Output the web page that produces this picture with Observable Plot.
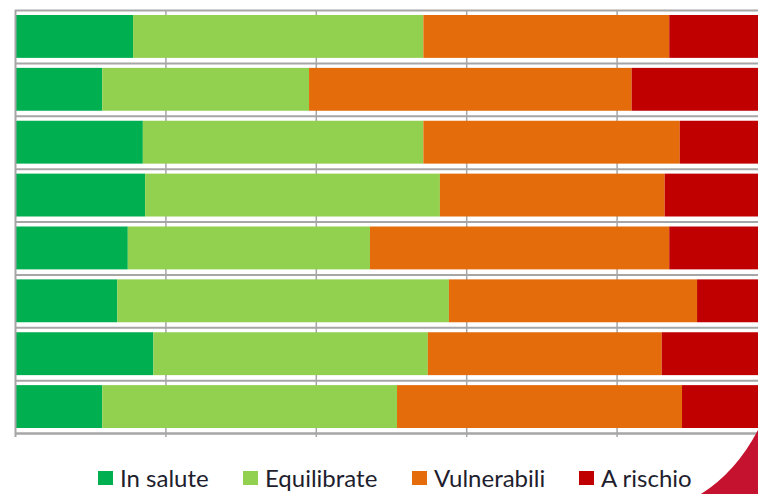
<!DOCTYPE html>
<html>
<head>
<meta charset="utf-8">
<script src="https://cdn.jsdelivr.net/npm/d3@7"></script>
<script src="https://cdn.jsdelivr.net/npm/@observablehq/plot@0.6"></script>
<style>
  html, body { margin: 0; padding: 0; background: #fff; overflow: hidden; }
  #wrap { position: relative; width: 758px; height: 494px; overflow: hidden; }
  #chart { position: absolute; left: 0; top: 0; }
  .legend-item { position: absolute; top: 466px; height: 24px; line-height: 24px; display: flex; align-items: center;
    font-family: Lato, "Open Sans", sans-serif; font-size: 24px; color: #1e1e2e; white-space: nowrap; }
  .legend-item .sw { width: 15px; height: 14px; margin-right: 7px; display: inline-block; }
  #swoosh { position: absolute; left: 0; top: 0; pointer-events: none; }
</style>
</head>
<body>
<div id="wrap">
  <div id="chart"></div>
  <div id="legend"></div>
  <svg id="swoosh" width="758" height="494">
    <path d="M701,494 Q736,472 758,430 L758,494 Z" fill="#c4122f"></path>
  </svg>
</div>
<script>
// Rows (category labels are not shown in the reference)
const rows = ["1", "2", "3", "4", "5", "6", "7", "8"];
const series = ["In salute", "Equilibrate", "Vulnerabili", "A rischio"];
const colors = ["#00B050", "#92D050", "#E46C0A", "#C00000"];

// Percent shares per row (top to bottom)
const inSalute    = [15.7, 11.6, 17.0, 17.3, 15.0, 13.6, 18.4, 11.6];
const equilibrate = [38.6, 27.5, 37.3, 39.2, 32.2, 44.1, 36.5, 39.2];
const vulnerabili = [32.7, 42.9, 34.1, 29.9, 39.8, 33.0, 31.1, 37.9];
const aRischio    = [13.0, 18.0, 11.6, 13.6, 13.0,  9.3, 14.0, 11.3];

const xTicks = [0, 20, 40, 60, 80, 100];

const seriesValues = [inSalute, equilibrate, vulnerabili, aRischio];
const data = [];
rows.forEach((r, i) => {
  let acc = 0;
  series.forEach((s, j) => {
    const v = seriesValues[j][i];
    data.push({row: i, label: r, serie: s, x1: acc, x2: acc + v});
    acc += v;
  });
});

const grid = "#a6a6a6";
const chart = Plot.plot({
  width: 758,
  height: 445,
  marginLeft: 15, marginRight: 0, marginTop: 10, marginBottom: 12,
  x: {domain: [0, 100], range: [15, 767], axis: null},
  y: {domain: [0, rows.length], range: [10, 433], axis: null},
  color: {domain: series, range: colors},
  marks: [
    Plot.ruleY(d3.range(0, rows.length + 1), {x1: 0, x2: 100, stroke: grid, strokeWidth: 2}),
    Plot.ruleX(xTicks.slice(1), {y1: 0, y2: rows.length, stroke: grid, strokeWidth: 1.5, insetBottom: -4}),
    Plot.rectX(data, {x1: "x1", x2: "x2", y1: "row", y2: d => d.row + 1, fill: "serie", insetTop: 5, insetBottom: 5}),
    Plot.ruleX([0], {y1: 0, y2: rows.length, stroke: grid, strokeWidth: 2, insetBottom: -4}),
    Plot.ruleY([rows.length], {x1: 0, x2: 100, stroke: grid, strokeWidth: 2})
  ]
});
document.getElementById("chart").appendChild(chart);

// Legend
const legendX = [98, 243, 412, 579];
const legend = document.getElementById("legend");
series.forEach((s, j) => {
  const item = document.createElement("div");
  item.className = "legend-item";
  item.style.left = legendX[j] + "px";
  const sw = document.createElement("span");
  sw.className = "sw";
  sw.style.background = colors[j];
  item.appendChild(sw);
  item.appendChild(document.createTextNode(s));
  legend.appendChild(item);
});
</script>
</body>
</html>
